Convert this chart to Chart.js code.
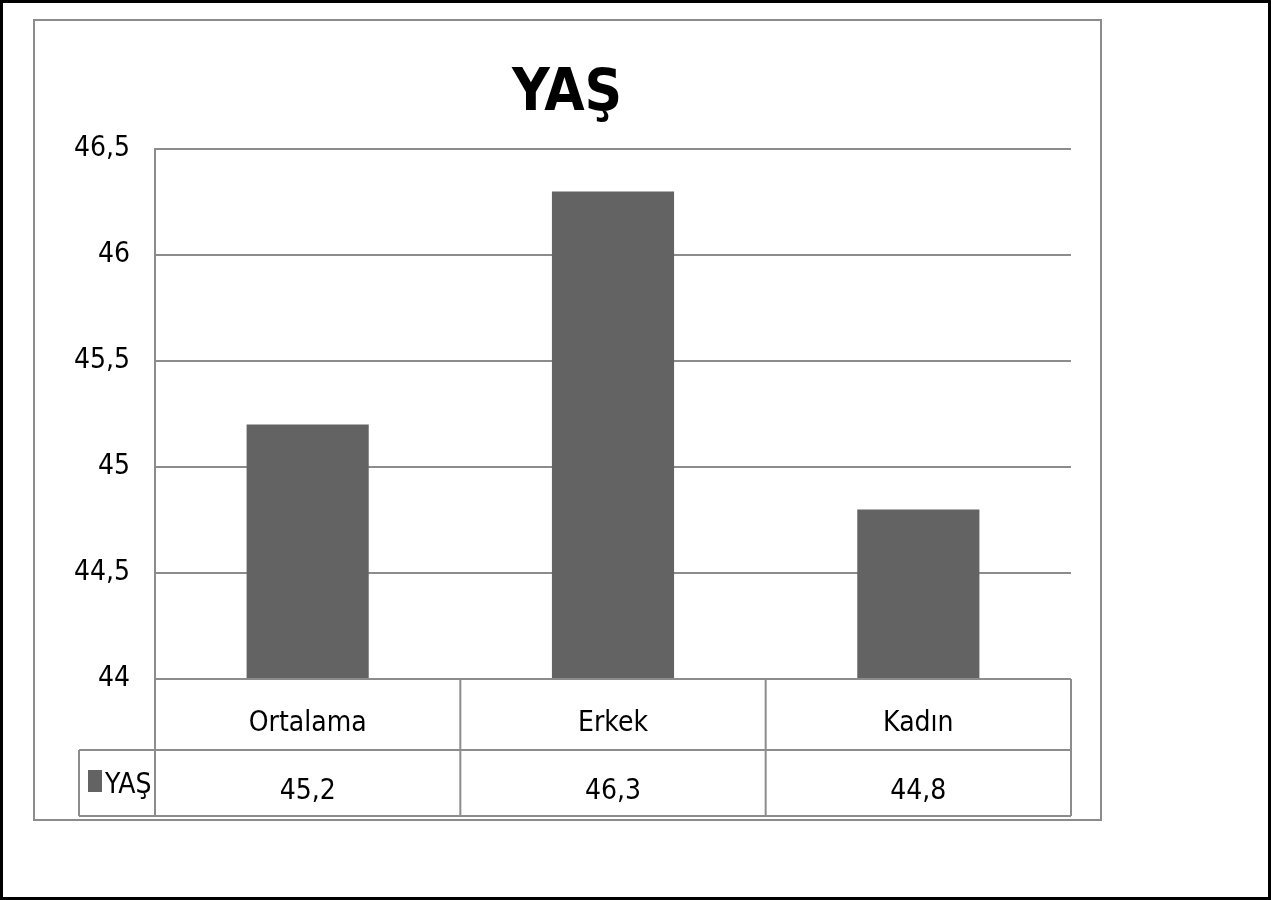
<!DOCTYPE html>
<html>
<head>
<meta charset="utf-8">
<script src="https://cdn.jsdelivr.net/npm/chart.js@4"></script>
<style>
  html, body { margin: 0; padding: 0; background: #fff; }
  #wrap { width: 1271px; height: 900px; }
</style>
</head>
<body>
<div id="wrap"><canvas id="ageChart" width="1271" height="900"></canvas></div>
<script>
// Chart data
const categories = ['Ortalama', 'Erkek', 'Kadın'];
const seriesName = 'YAŞ';
const ageValues = [45.2, 46.3, 44.8];
const yMin = 44;
const yMax = 46.5;
const yStep = 0.5;

const barColor = '#636363';
const lineColor = '#8c8c8c';
const fontFamily = "'Liberation Sans Narrow', 'DejaVu Sans Condensed', 'Liberation Sans', sans-serif";

function formatComma(v) {
    return String(v).replace('.', ',');
}

// Frames and data table under the x axis
const tablePlugin = {
    id: 'tablePlugin',
    beforeDraw: function(chart) {
        const ctx = chart.ctx;
        ctx.save();
        ctx.fillStyle = '#fff';
        ctx.fillRect(0, 0, chart.width, chart.height);
        ctx.strokeStyle = '#000';
        ctx.lineWidth = 3;
        ctx.strokeRect(1.5, 1.5, chart.width - 3, chart.height - 3);
        ctx.strokeStyle = lineColor;
        ctx.lineWidth = 2;
        ctx.strokeRect(34, 20, 1067, 800);
        ctx.restore();
    },
    afterDraw: function(chart) {
        const ctx = chart.ctx;
        const area = chart.chartArea;
        const x = chart.scales.x;
        const row1 = area.bottom + 71;
        const row2 = area.bottom + 137;
        const tableLeft = 79;
        const half = (x.getPixelForValue(1) - x.getPixelForValue(0)) / 2;

        ctx.save();
        ctx.strokeStyle = lineColor;
        ctx.lineWidth = 2;
        ctx.beginPath();
        ctx.moveTo(area.left, area.bottom);
        ctx.lineTo(area.right, area.bottom);
        ctx.moveTo(tableLeft, row1);
        ctx.lineTo(area.right, row1);
        ctx.moveTo(tableLeft, row2);
        ctx.lineTo(area.right, row2);
        ctx.moveTo(tableLeft, row1);
        ctx.lineTo(tableLeft, row2);
        ctx.moveTo(area.left, area.bottom);
        ctx.lineTo(area.left, row2);
        categories.forEach(function(c, i) {
            const px = x.getPixelForValue(i) + half;
            ctx.moveTo(px, area.bottom);
            ctx.lineTo(px, row2);
        });
        ctx.stroke();

        // legend key
        ctx.fillStyle = barColor;
        ctx.fillRect(88, row1 + 20, 14, 22);
        ctx.fillStyle = '#000';
        ctx.font = '28px ' + fontFamily;
        ctx.textBaseline = 'middle';
        ctx.textAlign = 'left';
        ctx.fillText(seriesName, 105, row1 + 36);

        // values row
        ctx.textAlign = 'center';
        ageValues.forEach(function(v, i) {
            ctx.fillText(formatComma(v), x.getPixelForValue(i), row1 + 42);
        });
        ctx.restore();
    }
};

new Chart(
    document.getElementById('ageChart'),
    {
        type: 'bar',
        data: {
            labels: categories,
            datasets: [
                {
                    label: seriesName,
                    data: ageValues,
                    backgroundColor: barColor,
                    categoryPercentage: 0.8,
                    barPercentage: 0.5
                }
            ]
        },
        options: {
            responsive: false,
            animation: false,
            layout: {
                padding: { left: 63, right: 200, top: 0, bottom: 84 }
            },
            scales: {
                x: {
                    grid: { display: false, drawTicks: false },
                    border: { display: false },
                    ticks: {
                        color: '#000',
                        padding: 28,
                        font: { family: fontFamily, size: 28 }
                    },
                    afterFit: function(scale) { scale.height = 137; }
                },
                y: {
                    min: yMin,
                    max: yMax,
                    grid: { color: lineColor, lineWidth: 2, drawTicks: false },
                    border: { display: true, color: lineColor, width: 2 },
                    ticks: {
                        stepSize: yStep,
                        color: '#000',
                        padding: 25,
                        font: { family: fontFamily, size: 28 },
                        callback: function(v) { return formatComma(v); }
                    },
                    afterFit: function(scale) { scale.width = 92; }
                }
            },
            plugins: {
                legend: { display: false },
                tooltip: { enabled: false },
                title: {
                    display: true,
                    text: seriesName,
                    color: '#000',
                    font: { family: fontFamily, size: 58, weight: 'bold', lineHeight: 1.2 },
                    padding: { top: 60, bottom: 19.4 }
                }
            }
        },
        plugins: [tablePlugin]
    }
);
</script>
</body>
</html>
